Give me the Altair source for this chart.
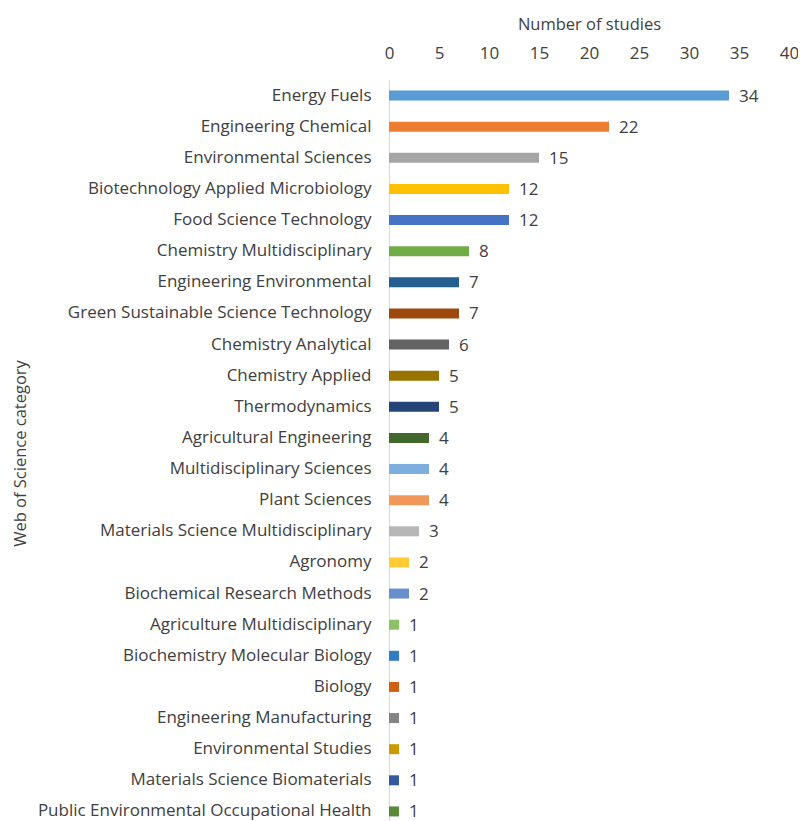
import altair as alt
import pandas as pd

categories = [
    "Energy Fuels", "Engineering Chemical", "Environmental Sciences",
    "Biotechnology Applied Microbiology", "Food Science Technology",
    "Chemistry Multidisciplinary", "Engineering Environmental",
    "Green Sustainable Science Technology", "Chemistry Analytical",
    "Chemistry Applied", "Thermodynamics", "Agricultural Engineering",
    "Multidisciplinary Sciences", "Plant Sciences",
    "Materials Science Multidisciplinary", "Agronomy",
    "Biochemical Research Methods", "Agriculture Multidisciplinary",
    "Biochemistry Molecular Biology", "Biology", "Engineering Manufacturing",
    "Environmental Studies", "Materials Science Biomaterials",
    "Public Environmental Occupational Health",
]
values = [34, 22, 15, 12, 12, 8, 7, 7, 6, 5, 5, 4, 4, 4, 3, 2, 2, 1, 1, 1, 1, 1, 1, 1]
colors = [
    "#5B9BD5", "#ED7D31", "#A5A5A5", "#FFC000", "#4472C4", "#70AD47",
    "#255E91", "#9E480E", "#636363", "#997300", "#264478", "#43682B",
    "#7CAFDD", "#F1975A", "#B7B7B7", "#FFCD33", "#698ED0", "#8CC168",
    "#327DC2", "#D26012", "#848484", "#CC9A00", "#335AA1", "#5A8A39",
]
x_ticks = [0, 5, 10, 15, 20, 25, 30, 35, 40]

df = pd.DataFrame({"category": categories, "value": values})

FONT = "Open Sans"
TXT = "#404040"

y_enc = alt.Y(
    "category:N",
    sort=categories,
    scale=alt.Scale(paddingInner=0.68, paddingOuter=0.34),
    axis=alt.Axis(
        title="Web of Science category",
        titleFont=FONT, titleFontSize=16.5, titleFontWeight="normal", titleColor=TXT,
        titleX=-369, titleY=373, titleAngle=270, titleAlign="center", titleBaseline="middle",
        labelFont=FONT, labelFontSize=17, labelColor=TXT, labelPadding=18,
        labelLimit=400,
        ticks=False, domainColor="#D9D9D9", domainWidth=1, grid=False,
    ),
)
x_enc = alt.X(
    "value:Q",
    scale=alt.Scale(domain=[0, 40], nice=False),
    axis=alt.Axis(
        orient="top", values=x_ticks, title="Number of studies",
        titleFont=FONT, titleFontSize=16.5, titleFontWeight="normal", titleColor=TXT,
        titlePadding=12,
        labelFont=FONT, labelFontSize=17, labelColor=TXT, labelPadding=18,
        labelFlush=False, labelOverlap=False,
        ticks=False, domain=False, grid=False,
    ),
)

bars = alt.Chart(df).mark_bar(height=10).encode(
    y=y_enc,
    x=x_enc,
    color=alt.Color("category:N", scale=alt.Scale(domain=categories, range=colors), legend=None),
)
labels = alt.Chart(df).mark_text(
    align="left", baseline="middle", dx=10, dy=1, font=FONT, fontSize=17, color=TXT
).encode(
    y=alt.Y("category:N", sort=categories),
    x=alt.X("value:Q"),
    text=alt.Text("value:Q"),
)

chart = alt.layer(bars, labels).properties(
    width=400, height=747,
    autosize=alt.AutoSizeParams(type="none"),
    padding={"left": 381, "top": 72, "right": 9, "bottom": 0},
).configure_view(stroke=None)

chart.save("out.html", embed_options={"renderer": "svg", "actions": False})
